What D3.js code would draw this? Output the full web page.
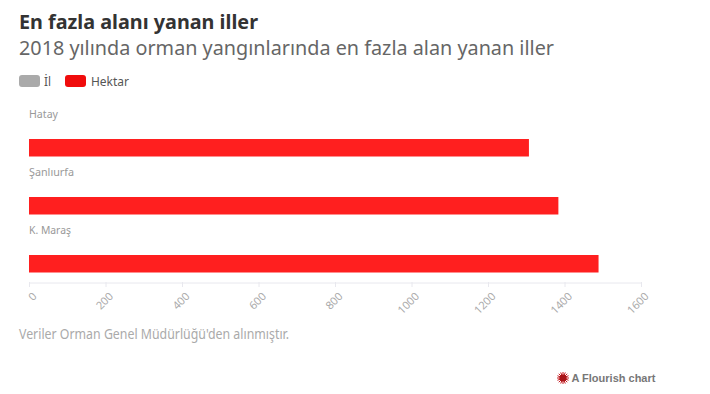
<!DOCTYPE html>
<html><head><meta charset="utf-8">
<script src="https://cdn.jsdelivr.net/npm/d3@7"></script>
<style>html,body{margin:0;padding:0;background:#fff}svg{display:block}text{font-family:"Noto Sans",sans-serif}</style>
</head><body><svg id="c" width="710" height="394"></svg>
<script>
const categories=["Hatay","Şanlıurfa","K. Maraş"];
const hektar=[1307,1384,1489];
const ticks=[0,200,400,600,800,1000,1200,1400,1600];
const legendNames=["İl","Hektar"];
const legendColors=["#aaaaaa","#f00c0c"];
const svg=d3.select("#c");
const x=d3.scaleLinear().domain([0,1600]).range([29,641]);
const y=d3.scaleBand().domain(categories).range([105,279]);
function fit(sel,w){sel.attr("textLength",w).attr("lengthAdjust","spacingAndGlyphs");return sel;}
fit(svg.append("text").attr("x",19).attr("y",29).attr("font-size",20).attr("font-weight",700).attr("fill","#333").text("En fazla alanı yanan iller"),239);
fit(svg.append("text").attr("x",19).attr("y",55).attr("font-size",20).attr("fill","#666").text("2018 yılında orman yangınlarında en fazla alan yanan iller"),535);
const lx=[19,65],lw=[21,21],tx=[44,91],tw=[7,38];
legendNames.forEach((n,i)=>{
 svg.append("rect").attr("x",lx[i]).attr("y",75).attr("width",lw[i]).attr("height",12).attr("rx",3).attr("fill",legendColors[i]);
 fit(svg.append("text").attr("x",tx[i]).attr("y",86).attr("font-size",13).attr("fill","#555").text(n),tw[i]);
});
const rows=svg.selectAll("g.row").data(categories).join("g").attr("class","row").attr("transform",d=>`translate(0,${y(d)})`);
rows.append("text").attr("x",29).attr("y",13).attr("font-size",10.5).attr("fill","#999").text(d=>d)
 .each(function(d,i){d3.select(this).attr("textLength",[29,45,42][i]).attr("lengthAdjust","spacingAndGlyphs");});
rows.append("rect").attr("x",x(0)).attr("y",34).attr("height",17.5).attr("width",(d,i)=>x(hektar[i])-x(0)).attr("fill","#ff1f1f");
const axis=d3.axisBottom(x).tickValues(ticks).tickSize(5).tickSizeOuter(0).tickFormat(d=>d);
const g=svg.append("g").attr("transform","translate(0,283)").call(axis);
g.select(".domain").attr("stroke","#e8e8ee").attr("d","M29,0H641");
g.selectAll(".tick line").attr("stroke","#e8e8ee").attr("y1",-1).attr("y2",4);
g.selectAll(".tick text").attr("fill","#aaa").attr("font-size",11).attr("font-family","Noto Sans")
 .attr("text-anchor","end").attr("dy",0).attr("y",0).attr("x",0)
 .attr("transform","translate(8,14) rotate(-45)");
fit(svg.append("text").attr("x",19).attr("y",339).attr("font-size",13.5).attr("fill","#aaa").text("Veriler Orman Genel Müdürlüğü'den alınmıştır."),270);
const logo=svg.append("g").attr("transform","translate(563,378)");
d3.range(16).forEach(i=>{const a=i*Math.PI/8;logo.append("line").attr("x2",6*Math.cos(a)).attr("y2",6*Math.sin(a)).attr("stroke","#c8161c").attr("stroke-width",1);});
logo.append("circle").attr("r",3.6).attr("fill","#a81418");
svg.append("text").attr("x",571.5).attr("y",382).attr("font-size",11).attr("font-weight",700).attr("fill","#777").style("font-family","Liberation Sans").text("A Flourish chart");
</script></body></html>
